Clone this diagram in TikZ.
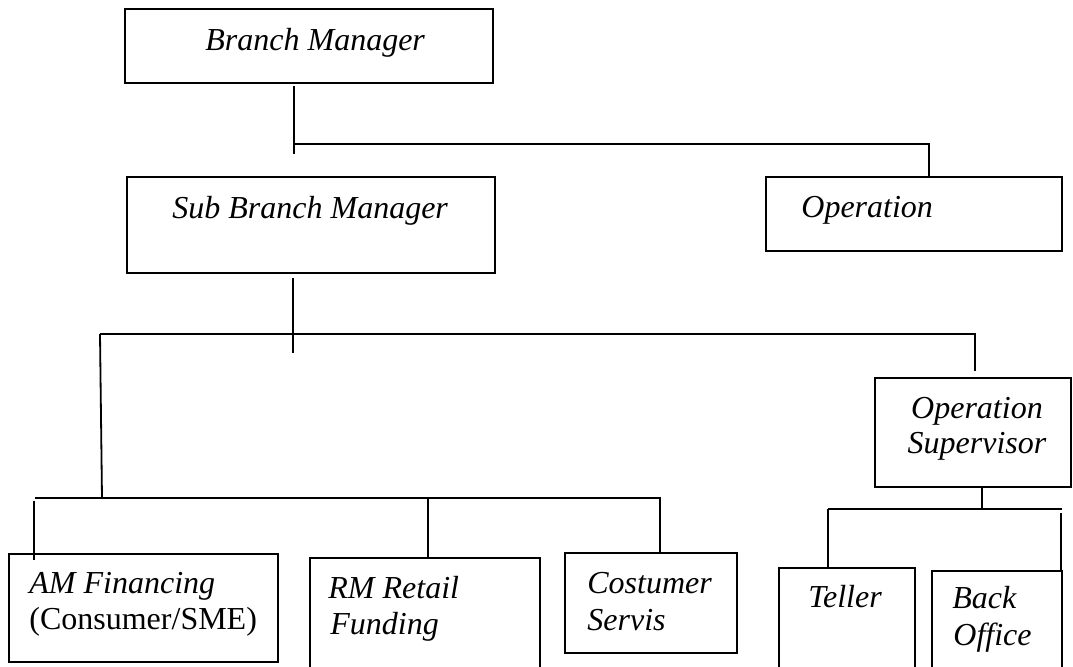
\documentclass[tikz,border=0pt]{standalone}
\usepackage{fontspec}
\setmainfont{Liberation Serif}
\tikzset{
  orgbox/.style={draw, line width=1.2pt, rectangle, inner sep=0pt},
  link/.style={line width=0.9pt},
  lbl/.style={inner sep=0pt, font=\fontsize{16}{19}\selectfont\itshape},
}
\begin{document}
\begin{tikzpicture}[x=0.5pt, y=-0.5pt]
\useasboundingbox (0,0) rectangle (1073,666);
\clip (0,0) rectangle (1073,666);

% Boxes
\node[orgbox, minimum width=184pt, minimum height=37pt] (bm) at (309,46) {};
\node[orgbox, minimum width=184pt, minimum height=48pt] (sbm) at (311,225) {};
\node[orgbox, minimum width=148pt, minimum height=37pt] (op) at (914,214) {};
\node[orgbox, minimum width=98pt, minimum height=54.5pt] (ops) at (973,432.5) {};
\node[orgbox, minimum width=134.5pt, minimum height=54pt] (am) at (143.5,608) {};
\node[orgbox, minimum width=115pt, minimum height=66pt] (rm) at (425,624) {};
\node[orgbox, minimum width=86pt, minimum height=50pt] (cs) at (651,603) {};
\node[orgbox, minimum width=68pt, minimum height=61pt] (tel) at (847,629) {};
\node[orgbox, minimum width=65pt, minimum height=59.5pt] (bo) at (997,630.5) {};

% Texts
\node[lbl, anchor=base west] (bmT) at (205,50) {Branch Manager};
\node[lbl, anchor=base west] (sbmT) at (172,218) {Sub Branch Manager};
\node[lbl, anchor=base west] (opT) at (801,217) {Operation};
\node[lbl, anchor=base] (opsT) at (977,418) {Operation};
\node[lbl, anchor=base] (opsT2) at (977,453) {Supervisor};
\node[lbl, anchor=base west] (amT) at (29,593) {AM Financing};
\node[lbl, anchor=base west, font=\fontsize{16}{19}\selectfont\upshape] (amT2) at (29,629) {(Consumer/SME)};
\node[lbl, anchor=base west] (rmT) at (328,598) {RM Retail};
\node[lbl, anchor=base west] (rmT2) at (330,634) {Funding};
\node[lbl, anchor=base west] (csT) at (587,593) {Costumer};
\node[lbl, anchor=base west] (csT2) at (587,630) {Servis};
\node[lbl, anchor=base] (telT) at (845,607) {Teller};
\node[lbl, anchor=base west] (boT) at (952,608) {Back};
\node[lbl, anchor=base west] (boT2) at (953,645) {Office};

% Lines
\coordinate (bmJ) at (294,144);
\coordinate (opJ) at (929,144);
\draw[link] (bm.south -| bmJ) ++(0,2) -- ++(0,68);
\draw[link] (bmJ) -- (opJ) -- (opJ |- op.north);

\coordinate (sbJ) at (293,334);
\coordinate (amJ) at (100,334);
\coordinate (osJ) at (975,334);
\draw[link] (sbm.south -| sbJ) ++(0,4) -- ++(0,75);
\draw[link] (amJ) -- (osJ) -- ++(0,37);

\coordinate (lowJ) at (102,498);
\coordinate (lowL) at (35,498);
\coordinate (lowR) at (660,498);
\coordinate (rmJ) at (428,498);
\coordinate (amTop) at (34,501);
\draw[link] (amJ) -- (lowJ);
\draw[link] (lowL) -- (lowR) -- (lowR |- cs.north);
\draw[link] (rmJ) -- (rmJ |- rm.north);
\draw[link] (amTop) -- ++(0,59);

\coordinate (osB) at (982,509);
\coordinate (tlJ) at (828,509);
\coordinate (boJ) at (1062,509);
\coordinate (boTop) at (1061,513);
\draw[link] (ops.south -| osB) -- (osB);
\draw[link] (tlJ) -- (boJ);
\draw[link] (tlJ) -- (tlJ |- tel.north);
\draw[link] (boTop) -- (boTop |- bo.north);

\end{tikzpicture}
\end{document}
